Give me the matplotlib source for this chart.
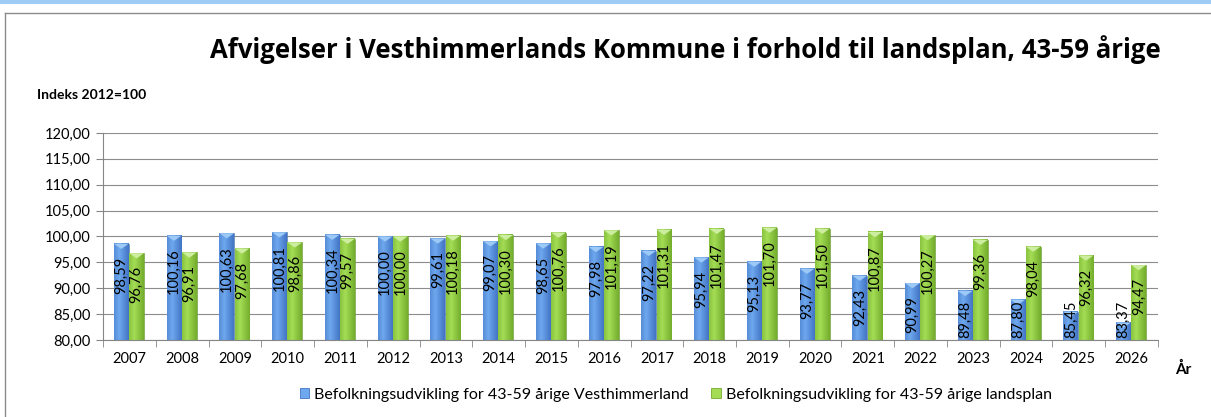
import matplotlib
matplotlib.use("Agg")
import matplotlib.pyplot as plt
import numpy as np
from matplotlib.patches import Rectangle, Polygon, Patch
from matplotlib.lines import Line2D
from matplotlib.colors import LinearSegmentedColormap

plt.rcParams['font.family'] = ['Lato', 'DejaVu Sans']

# data
years = [str(y) for y in range(2007, 2027)]
vesthimmerland = [98.59, 100.16, 100.63, 100.81, 100.34, 100.00, 99.61, 99.07, 98.65, 97.98,
                  97.22, 95.94, 95.13, 93.77, 92.43, 90.99, 89.48, 87.80, 85.45, 83.37]
landsplan = [96.76, 96.91, 97.68, 98.86, 99.57, 100.00, 100.18, 100.30, 100.76, 101.19,
             101.31, 101.47, 101.70, 101.50, 100.87, 100.27, 99.36, 98.04, 96.32, 94.47]
series_names = ["Befolkningsudvikling for 43-59 årige Vesthimmerland",
                "Befolkningsudvikling for 43-59 årige landsplan"]

ymin, ymax = 80, 120

fig = plt.figure(figsize=(12.11, 4.17), dpi=100)
ax = fig.add_axes([0.0851, 0.1847, 0.8711, 0.4964])

x = np.arange(len(years))
w = 0.28

# colours: edge, centre, cap, outline
blue = ("#4274c4", "#6ea8ee", "#9cc9f6", "#5a7fa8")
green = ("#72ad2c", "#a4dc55", "#cdeea0", "#6f9a3a")


def draw_bars(xpos, vals, cols):
    bars = ax.bar(xpos, np.array(vals) - ymin, w, bottom=ymin, color=cols[0],
                  edgecolor=cols[3], linewidth=0.4, zorder=2)
    grad = np.linspace(0, 1, 64)
    grad = 1 - np.abs(grad - 0.35) / 0.65
    cmap = LinearSegmentedColormap.from_list("g", [cols[0], cols[1]])
    for b in bars:
        x0, x1 = b.get_x(), b.get_x() + b.get_width()
        top = b.get_y() + b.get_height()
        ax.imshow(grad[np.newaxis, :], cmap=cmap, extent=[x0, x1, ymin, top],
                  aspect="auto", zorder=2.5, interpolation="bilinear")
        cap = Polygon([(x0, top), (x1, top), ((x0 + x1) / 2, top - 1.0)],
                      closed=True, color=cols[2], zorder=2.6, lw=0)
        ax.add_patch(cap)
    return bars


draw_bars(x - 0.155, vesthimmerland, blue)
draw_bars(x + 0.135, landsplan, green)

# value labels
for xpos, vals in ((x - 0.155, vesthimmerland), (x + 0.135, landsplan)):
    for xi, v in zip(xpos, vals):
        txt = f"{v:.2f}".replace(".", ",")
        top = v - 2.5
        if top - 7.3 < ymin + 0.2:
            ax.text(xi, ymin + 0.3, txt, rotation=90, ha="center", va="bottom",
                    fontsize=10.5, zorder=4)
        else:
            ax.text(xi, top, txt, rotation=90, ha="center", va="top",
                    fontsize=10.5, zorder=4)

ax.set_xlim(-0.5, len(years) - 0.5)
ax.set_ylim(ymin, ymax)
ax.set_yticks(np.arange(80, 121, 5))
ax.set_yticklabels([f"{t:.2f}".replace(".", ",") for t in np.arange(80, 121, 5)], fontsize=10.5)
ax.set_xticks(x)
ax.set_xticklabels(years, fontsize=10.5)
ax.set_xticks(np.arange(-0.5, len(years), 1), minor=True)
ax.tick_params(axis="x", which="major", length=0, pad=9)
ax.tick_params(axis="x", which="minor", length=5, color="#868686")
ax.tick_params(axis="y", length=5, color="#868686", pad=4)
ax.grid(axis="y", color="#8c8c8c", linewidth=0.8, zorder=0)
ax.set_axisbelow(True)
for s in ("top", "right"):
    ax.spines[s].set_visible(False)
for s in ("left", "bottom"):
    ax.spines[s].set_color("#868686")
    ax.spines[s].set_zorder(5)

# texts
fig.text(0.566, 0.882, "Afvigelser i Vesthimmerlands Kommune i forhold til landsplan, 43-59 årige",
         ha="center", va="center", fontsize=18.5, fontweight="bold",
         family=["Open Sans", "DejaVu Sans"])
fig.text(0.0306, 0.772, "Indeks 2012=100", ha="left", va="center", fontsize=10, fontweight="bold")
fig.text(0.977, 0.113, "År", ha="center", va="center", fontsize=11, fontweight="bold")

handles = [Patch(facecolor=blue[1], edgecolor=blue[0], lw=0.6),
           Patch(facecolor=green[1], edgecolor=green[0], lw=0.6)]
fig.legend(handles, series_names, loc="center", bbox_to_anchor=(0.558, 0.053), ncol=2,
           frameon=False, fontsize=11.5, handlelength=0.6, handleheight=0.6,
           handletextpad=0.3, columnspacing=1.4)

# chart frame and top band
fig.add_artist(Rectangle((0, 1 - 4 / 417), 1, 4 / 417, transform=fig.transFigure,
                         color="#9fccf5", lw=0))
fig.add_artist(Line2D([5 / 1211, 5 / 1211], [0, 1 - 13 / 417], transform=fig.transFigure,
                      color="#8a8a8a", lw=1))
fig.add_artist(Line2D([5 / 1211, 1], [1 - 13 / 417, 1 - 13 / 417], transform=fig.transFigure,
                      color="#8a8a8a", lw=1))

fig.savefig("out.png", dpi=100)
